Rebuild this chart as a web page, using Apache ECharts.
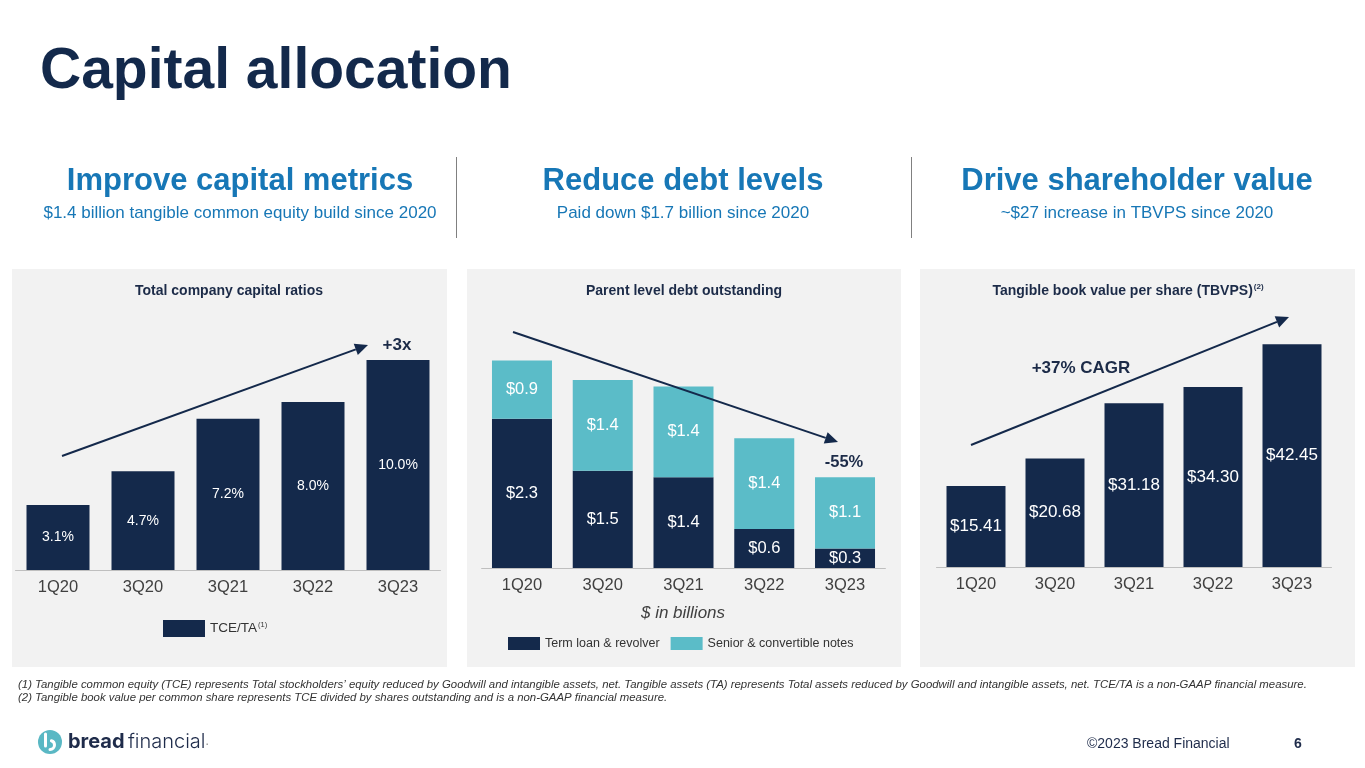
<!DOCTYPE html>
<html>
<head>
<meta charset="utf-8">
<script src="https://cdn.jsdelivr.net/npm/echarts@6/dist/echarts.min.js"></script>
<style>
html,body{margin:0;padding:0;background:#fff;}
#c{width:1365px;height:768px;}
</style>
</head>
<body>
<div id="c"></div>
<script>
const categories = ['1Q20','3Q20','3Q21','3Q22','3Q23'];
const tceRatio = [3.1, 4.7, 7.2, 8.0, 10.0];
const termLoan = [2.3, 1.5, 1.4, 0.6, 0.3];
const seniorNotes = [0.9, 1.4, 1.4, 1.4, 1.1];
const tbvps = [15.41, 20.68, 31.18, 34.30, 42.45];

const FONT = '"Liberation Sans", Arial, sans-serif';
const NAVY = '#14294b';
const TEAL = '#5bbcc8';
const BLUE = '#1777b6';
const PANEL = '#f2f2f2';

function arrow(x1, y1, x2, y2) {
  const a = Math.atan2(y2 - y1, x2 - x1);
  const L = 13, W = 6;
  const bx = x2 - L * Math.cos(a), by = y2 - L * Math.sin(a);
  const px = -Math.sin(a) * W, py = Math.cos(a) * W;
  return [
    {type:'line', z:10, shape:{x1:x1, y1:y1, x2:bx, y2:by}, style:{stroke:NAVY, lineWidth:2}},
    {type:'polygon', z:10, shape:{points:[[x2,y2],[bx+px,by+py],[bx-px,by-py]]}, style:{fill:NAVY}}
  ];
}
function txt(x, y, text, o) {
  return {type:'text', z:10, x:x, y:y, style:Object.assign({text:text, fontFamily:FONT, align:'center', verticalAlign:'middle'}, o)};
}

const graphics = [
  {type:'rect', z:0, shape:{x:12, y:269, width:435, height:398}, style:{fill:PANEL}},
  {type:'rect', z:0, shape:{x:467, y:269, width:434, height:398}, style:{fill:PANEL}},
  {type:'rect', z:0, shape:{x:920, y:269, width:435, height:398}, style:{fill:PANEL}},
  {type:'line', z:1, shape:{x1:456.5, y1:157, x2:456.5, y2:238}, style:{stroke:'#808080', lineWidth:1}},
  {type:'line', z:1, shape:{x1:911.5, y1:157, x2:911.5, y2:238}, style:{stroke:'#808080', lineWidth:1}},
  txt(40, 72, 'Capital allocation', {align:'left', fontSize:57, fontWeight:'bold', fill:'#13294b'}),
  txt(240, 181, 'Improve capital metrics', {fontSize:31, fontWeight:'bold', fill:BLUE}),
  txt(240, 213, '$1.4 billion tangible common equity build since 2020', {fontSize:17, fill:BLUE}),
  txt(683, 181, 'Reduce debt levels', {fontSize:31, fontWeight:'bold', fill:BLUE}),
  txt(683, 213, 'Paid down $1.7 billion since 2020', {fontSize:17, fill:BLUE}),
  txt(1137, 181, 'Drive shareholder value', {fontSize:31, fontWeight:'bold', fill:BLUE}),
  txt(1137, 213, '~$27 increase in TBVPS since 2020', {fontSize:17, fill:BLUE}),
  txt(229, 291, 'Total company capital ratios', {fontSize:14, fontWeight:'bold', fill:'#1c2b48'}),
  txt(684, 291, 'Parent level debt outstanding', {fontSize:14, fontWeight:'bold', fill:'#1c2b48'}),
  txt(1128, 291, '{t|Tangible book value per share (TBVPS)}{s|(2)}', {fontSize:14, fill:'#1c2b48',
     rich:{t:{fontSize:14, fontWeight:'bold', fontFamily:FONT, fill:'#1c2b48'}, s:{fontSize:8, fontWeight:'bold', fontFamily:FONT, fill:'#1c2b48', verticalAlign:'top', padding:[0,0,8,1]}}}),
  txt(397, 345, '+3x', {fontSize:17, fontWeight:'bold', fill:'#1c2b48'}),
  txt(844, 462, '-55%', {fontSize:16.5, fontWeight:'bold', fill:'#1c2b48'}),
  txt(1081, 368, '+37% CAGR', {fontSize:17, fontWeight:'bold', fill:'#1c2b48'}),
  txt(683, 613, '$ in billions', {fontSize:17, fontStyle:'italic', fill:'#404040'}),
  txt(18, 685, '(1) Tangible common equity (TCE) represents Total stockholders\u2019 equity reduced by Goodwill and intangible assets, net. Tangible assets (TA) represents Total assets reduced by Goodwill and intangible assets, net. TCE/TA is a non-GAAP financial measure.', {align:'left', fontSize:11.4, fontStyle:'italic', fill:'#333'}),
  txt(18, 698, '(2) Tangible book value per common share represents TCE divided by shares outstanding and is a non-GAAP financial measure.', {align:'left', fontSize:11.4, fontStyle:'italic', fill:'#333'}),
  {type:'circle', z:10, shape:{cx:50, cy:742, r:12}, style:{fill:'#5ab8c4'}},
  {type:'line', z:11, shape:{x1:45.5, y1:734, x2:45.5, y2:746}, style:{stroke:'#fff', lineWidth:3, lineCap:'round'}},
  {type:'arc', z:11, shape:{cx:50, cy:745, r:4.5, startAngle:Math.PI*0.5, endAngle:Math.PI*1.6, clockwise:false}, style:{stroke:'#fff', lineWidth:3, fill:null, lineCap:'round'}},
  txt(68, 742, '{b|bread} {f|financial}{d|.}', {align:'left', rich:{
     b:{fontSize:20, fontWeight:'bold', fontFamily:'Inter, '+FONT, fill:'#1e2b4a'},
     f:{fontSize:20, fontFamily:'Inter, '+FONT, fontWeight:300, fill:'#1e2b4a'},
     d:{fontSize:12, fontFamily:FONT, fill:'#888'}}}),
  txt(1087, 744, '\u00a92023 Bread Financial', {align:'left', fontSize:14, fill:'#1e2b4a'}),
  txt(1298, 744, '6', {fontSize:14, fontWeight:'bold', fill:'#1e2b4a'})
].concat(arrow(62, 456, 368, 345), arrow(513, 332, 838, 442), arrow(971, 445, 1289, 317));

const xAxisBase = (gi) => ({
  type:'category', gridIndex:gi, data:categories,
  axisLine:{lineStyle:{color:'#bfbfbf', width:1}}, axisTick:{show:false},
  axisLabel:{color:'#404040', fontSize:16.5, fontFamily:FONT, margin:9}
});
const yAxisBase = (gi, max) => ({type:'value', gridIndex:gi, min:0, max:max, show:false, splitLine:{show:false}});

const option = {
  animation:false,
  textStyle:{fontFamily:FONT},
  grid:[
    {left:15.5, width:425, top:318, height:252},
    {left:481.6, width:403.8, top:341, height:227},
    {left:936.5, width:395, top:304.5, height:262.5}
  ],
  xAxis:[xAxisBase(0), xAxisBase(1), xAxisBase(2)],
  yAxis:[yAxisBase(0, 12), yAxisBase(1, 3.5), yAxisBase(2, 50)],
  legend:[
    {data:['TCE/TA'], left:163, top:620, padding:0, itemWidth:42, itemHeight:17, icon:'rect', itemGap:10,
     textStyle:{fontSize:13.5, color:'#333', fontFamily:FONT, rich:{a:{fontSize:13.5, color:'#333', fontFamily:FONT}, s:{fontSize:7.5, color:'#333', fontFamily:FONT, verticalAlign:'top', padding:[0,0,7,1]}}},
     formatter:function(n){return '{a|' + n + '}{s|(1)}';}},
    {data:['Term loan & revolver','Senior & convertible notes'], left:508, top:637, padding:0, itemWidth:32, itemHeight:13, icon:'rect', itemGap:11,
     textStyle:{fontSize:12.5, color:'#333', fontFamily:FONT}}
  ],
  graphic:{elements:graphics},
  series:[
    {name:'TCE/TA', type:'bar', xAxisIndex:0, yAxisIndex:0, data:tceRatio, barWidth:63, itemStyle:{color:NAVY},
     label:{show:true, position:'inside', color:'#fff', fontSize:14, fontFamily:FONT, formatter:p=>p.value.toFixed(1)+'%'}},
    {name:'Term loan & revolver', type:'bar', stack:'debt', xAxisIndex:1, yAxisIndex:1, data:termLoan, barWidth:60, itemStyle:{color:NAVY},
     label:{show:true, position:'inside', color:'#fff', fontSize:16.5, fontFamily:FONT, formatter:p=>'$'+p.value.toFixed(1)}},
    {name:'Senior & convertible notes', type:'bar', stack:'debt', xAxisIndex:1, yAxisIndex:1, data:seniorNotes, barWidth:60, itemStyle:{color:TEAL},
     label:{show:true, position:'inside', color:'#fff', fontSize:16.5, fontFamily:FONT, formatter:p=>'$'+p.value.toFixed(1)}},
    {name:'TBVPS', type:'bar', xAxisIndex:2, yAxisIndex:2, data:tbvps, barWidth:59, itemStyle:{color:NAVY},
     label:{show:true, position:'inside', color:'#fff', fontSize:17, fontFamily:FONT, formatter:p=>'$'+p.value.toFixed(2)}}
  ]
};
const chart = echarts.init(document.getElementById('c'), null, {renderer:'canvas'});
chart.setOption(option);
</script>
</body>
</html>
